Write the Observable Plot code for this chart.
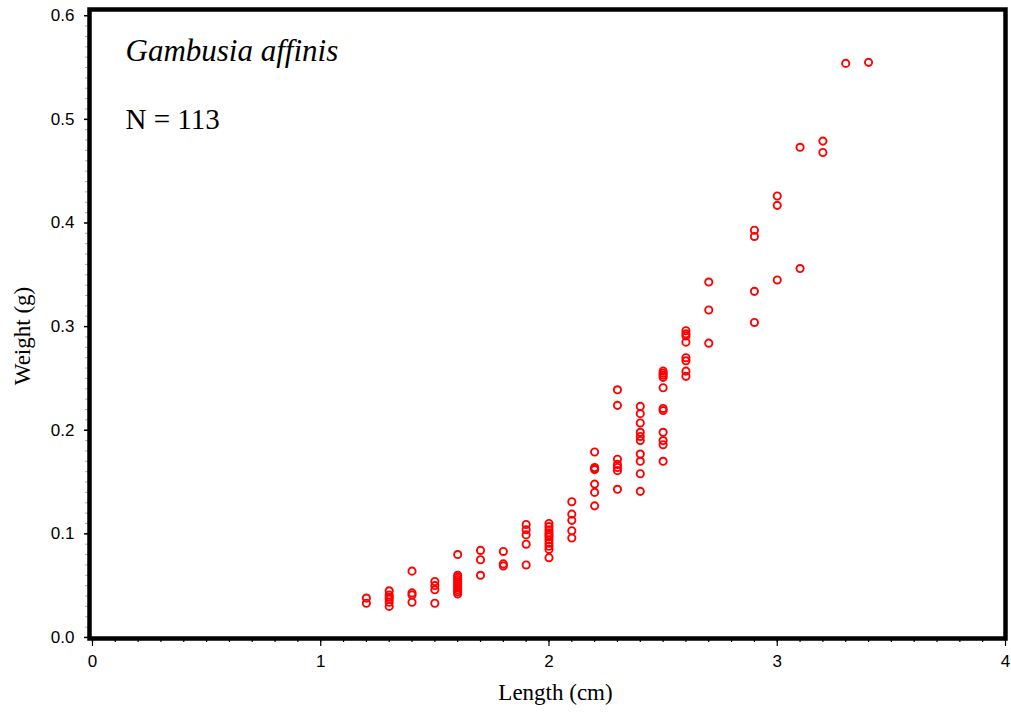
<!DOCTYPE html>
<html>
<head>
<meta charset="utf-8">
<script src="https://cdn.jsdelivr.net/npm/d3@7"></script>
<script src="https://cdn.jsdelivr.net/npm/@observablehq/plot@0.6"></script>
<style>
  html, body { margin: 0; padding: 0; background: #fff; }
</style>
</head>
<body>
<div id="chart"></div>
<script>
// Length (cm) and weight (g) of each fish
const lengthCm = [
  1.2, 1.2,
  1.3, 1.3, 1.3, 1.3, 1.3, 1.3,
  1.4, 1.4, 1.4, 1.4,
  1.5, 1.5, 1.5, 1.5,
  1.6, 1.6, 1.6, 1.6, 1.6, 1.6, 1.6, 1.6, 1.6, 1.6, 1.6,
  1.7, 1.7, 1.7,
  1.8, 1.8, 1.8,
  1.9, 1.9, 1.9, 1.9, 1.9,
  2.0, 2.0, 2.0, 2.0, 2.0, 2.0, 2.0, 2.0, 2.0, 2.0, 2.0,
  2.1, 2.1, 2.1, 2.1, 2.1,
  2.2, 2.2, 2.2, 2.2, 2.2, 2.2, 2.2,
  2.3, 2.3, 2.3, 2.3, 2.3, 2.3, 2.3,
  2.4, 2.4, 2.4, 2.4, 2.4, 2.4, 2.4, 2.4, 2.4, 2.4,
  2.5, 2.5, 2.5, 2.5, 2.5, 2.5, 2.5, 2.5, 2.5, 2.5, 2.5,
  2.6, 2.6, 2.6, 2.6, 2.6, 2.6, 2.6, 2.6,
  2.7, 2.7, 2.7,
  2.9, 2.9, 2.9, 2.9,
  3.0, 3.0, 3.0,
  3.1, 3.1,
  3.2, 3.2,
  3.3,
  3.4
];
const weightG = [
  0.038, 0.033,
  0.045, 0.041, 0.039, 0.037, 0.034, 0.030,
  0.064, 0.043, 0.041, 0.034,
  0.054, 0.050, 0.046, 0.033,
  0.080, 0.060, 0.058, 0.056, 0.054, 0.052, 0.050, 0.048, 0.046, 0.044, 0.042,
  0.084, 0.075, 0.060,
  0.083, 0.071, 0.069,
  0.109, 0.104, 0.099, 0.090, 0.070,
  0.110, 0.107, 0.104, 0.101, 0.099, 0.097, 0.094, 0.091, 0.088, 0.085, 0.077,
  0.131, 0.119, 0.113, 0.103, 0.096,
  0.179, 0.164, 0.163, 0.162, 0.148, 0.140, 0.127,
  0.239, 0.224, 0.172, 0.167, 0.164, 0.161, 0.143,
  0.223, 0.216, 0.207, 0.198, 0.194, 0.190, 0.177, 0.170, 0.158, 0.141,
  0.257, 0.255, 0.253, 0.251, 0.241, 0.221, 0.219, 0.198, 0.190, 0.186, 0.170,
  0.296, 0.293, 0.291, 0.285, 0.270, 0.267, 0.257, 0.252,
  0.343, 0.316, 0.284,
  0.393, 0.387, 0.334, 0.304,
  0.426, 0.417, 0.345,
  0.473, 0.356,
  0.479, 0.468,
  0.554,
  0.555
];
const xMajorTicks = [0, 1, 2, 3, 4];
const xMinorTicks = d3.range(0, 40).map(i => i / 10);
const yMajorTicks = [0, 0.1, 0.2, 0.3, 0.4, 0.5, 0.6];
const yMinorTicks = d3.range(0, 61).map(i => i / 100);
const speciesName = "Gambusia affinis";
const sampleLabel = "N = 113";

const fish = lengthCm.map((l, i) => ({length: l, weight: weightG[i]}));

const sans = "'Liberation Sans', Arial, sans-serif";
const serif = "'Liberation Serif', 'Times New Roman', serif";

const chart = Plot.plot({
  width: 1011,
  height: 712,
  marginLeft: 89,
  marginRight: 6,
  marginTop: 9,
  marginBottom: 74,
  style: {background: "#fff", color: "#000", overflow: "visible"},
  x: {domain: [-0.013, 4], label: null},
  y: {domain: [-0.001, 0.606], label: null},
  marks: [
    Plot.axisX(xMinorTicks, {tickSize: 4, text: null, stroke: "#000", strokeWidth: 1.2, label: null}),
    Plot.axisX(xMajorTicks, {tickSize: 8, tickPadding: 8, fontSize: 17, fontFamily: sans, tickFormat: d => String(d), label: null, strokeWidth: 1.2}),
    Plot.axisY(yMinorTicks, {tickSize: 4, text: null, stroke: "#999", strokeWidth: 0.8, label: null}),
    Plot.axisY(yMajorTicks, {tickSize: 5, tickPadding: 10, fontSize: 17, fontFamily: sans, tickFormat: d3.format(".1f"), label: null, strokeWidth: 1.5}),
    Plot.dot(fish, {x: "length", y: "weight", r: 3.6, stroke: "#ff0000", strokeWidth: 1.9, fill: "none"}),
    Plot.frame({stroke: "#000", strokeWidth: 4.5}),
    Plot.text([speciesName], {frameAnchor: "top-left", textAnchor: "start", lineAnchor: "bottom", dx: 36, dy: 51, fontSize: 31, fontFamily: serif, fontStyle: "italic", fill: "#000"}),
    Plot.text([sampleLabel], {frameAnchor: "top-left", textAnchor: "start", lineAnchor: "bottom", dx: 36, dy: 119, fontSize: 29, fontFamily: serif, fill: "#000"}),
    Plot.text(["Length (cm)"], {frameAnchor: "bottom", textAnchor: "middle", lineAnchor: "middle", dx: 8, dy: 54, fontSize: 23, fontFamily: serif, fill: "#000"}),
    Plot.text(["Weight (g)"], {frameAnchor: "left", textAnchor: "middle", lineAnchor: "middle", rotate: -90, dx: -67, dy: 12, fontSize: 23, fontFamily: serif, fill: "#000"})
  ]
});
document.getElementById("chart").appendChild(chart);
</script>
</body>
</html>
